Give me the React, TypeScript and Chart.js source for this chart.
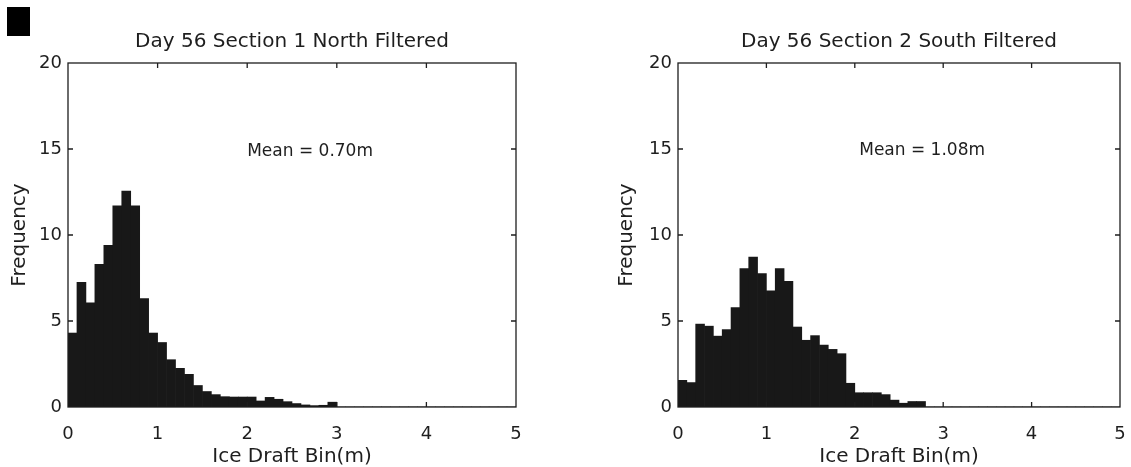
import React, { useEffect, useRef } from 'react';
import { Chart, registerables } from 'chart.js';

Chart.register(...registerables);

// Frequencies per 0.1 m ice-draft bin (0–5 m)
const northFreq = [
  4.3, 7.25, 6.05, 8.3, 9.4, 11.7, 12.55, 11.7, 6.3, 4.3,
  3.75, 2.75, 2.25, 1.9, 1.25, 0.9, 0.72, 0.6, 0.58, 0.58,
  0.58, 0.35, 0.56, 0.45, 0.31, 0.2, 0.12, 0.08, 0.1, 0.28,
  0, 0, 0, 0, 0, 0, 0, 0, 0, 0,
  0, 0, 0, 0, 0, 0, 0, 0, 0, 0,
];
const southFreq = [
  1.55, 1.42, 4.82, 4.7, 4.12, 4.5, 5.78, 8.05, 8.72, 7.75,
  6.75, 8.05, 7.3, 4.65, 3.88, 4.15, 3.6, 3.35, 3.1, 1.38,
  0.83, 0.83, 0.83, 0.72, 0.4, 0.22, 0.32, 0.32, 0, 0,
  0, 0, 0, 0, 0, 0, 0, 0, 0, 0,
  0, 0, 0, 0, 0, 0, 0, 0, 0, 0,
];
const binWidth = 0.1;
const binCenters = northFreq.map((_, i) => +(i * binWidth + binWidth / 2).toFixed(2));

const chartTitles = ['Day 56 Section 1 North Filtered', 'Day 56 Section 2 South Filtered'];
const meanLabels = ['Mean = 0.70m', 'Mean = 1.08m'];
const meanAnchorX = [2.0, 2.05];
const meanAnchorY = [14.83, 14.88];
const xAxisTitle = 'Ice Draft Bin(m)';
const yAxisTitle = 'Frequency';

const INK = '#1e1e1e';
const BAR = '#181818';
const FONT = '"DejaVu Sans", sans-serif';

const framePlugin = {
  id: 'frame',
  afterDatasetsDraw(chart: any) {
    const { ctx, chartArea, scales } = chart;
    const { left, right, top, bottom } = chartArea;
    const x = scales.x;
    const y = scales.y;
    const opts = chart.options.plugins.frame;
    ctx.save();
    ctx.strokeStyle = INK;
    ctx.lineWidth = 1.3;
    ctx.strokeRect(left, top, right - left, bottom - top);
    const tl = 5;
    ctx.beginPath();
    x.ticks.forEach((t: any) => {
      const px = x.getPixelForValue(t.value);
      if (px <= left + 1 || px >= right - 1) return;
      ctx.moveTo(px, bottom);
      ctx.lineTo(px, bottom - tl);
      ctx.moveTo(px, top);
      ctx.lineTo(px, top + tl);
    });
    y.ticks.forEach((t: any) => {
      const py = y.getPixelForValue(t.value);
      if (py <= top + 1 || py >= bottom - 1) return;
      ctx.moveTo(left, py);
      ctx.lineTo(left + tl, py);
      ctx.moveTo(right, py);
      ctx.lineTo(right - tl, py);
    });
    ctx.stroke();
    ctx.fillStyle = INK;
    ctx.font = `17px ${FONT}`;
    ctx.textAlign = 'left';
    ctx.textBaseline = 'middle';
    ctx.fillText(opts.label, x.getPixelForValue(opts.ax), y.getPixelForValue(opts.ay));
    ctx.restore();
  },
};

type HistProps = {
  values: number[];
  title: string;
  label: string;
  ax: number;
  ay: number;
  width: number;
  left: number;
  padLeft: number;
  padRight: number;
  yTitlePad: number;
};

function Histogram(p: HistProps) {
  const ref = useRef<HTMLCanvasElement>(null);
  useEffect(() => {
    if (!ref.current) return;
    const chart = new Chart(ref.current, {
      type: 'bar',
      data: {
        datasets: [
          {
            data: p.values.map((v, i) => ({ x: binCenters[i], y: v })),
            backgroundColor: BAR,
            borderWidth: 0,
            barPercentage: 1,
            categoryPercentage: 1,
            grouped: false,
          } as any,
        ],
      },
      options: {
        responsive: false,
        animation: false,
        layout: { padding: { left: p.padLeft, right: p.padRight, top: 0, bottom: 0 } },
        plugins: {
          legend: { display: false },
          tooltip: { enabled: false },
          title: {
            display: true,
            text: p.title,
            fullSize: false,
            color: INK,
            font: { family: FONT, size: 20, weight: 'normal' },
            padding: { top: 30, bottom: 9 },
          },
          frame: { label: p.label, ax: p.ax, ay: p.ay },
        } as any,
        scales: {
          x: {
            type: 'linear',
            min: 0,
            max: 5,
            offset: false,
            grid: { display: false, drawTicks: false, offset: false },
            border: { display: false },
            ticks: {
              stepSize: 1,
              padding: 17,
              maxRotation: 0,
              color: INK,
              font: { family: FONT, size: 18 },
            },
            title: {
              display: true,
              text: xAxisTitle,
              color: INK,
              font: { family: FONT, size: 20 },
              padding: { top: 0, bottom: -2 },
            },
            afterFit: (s: any) => {
              s.height = 60;
            },
          },
          y: {
            type: 'linear',
            min: 0,
            max: 20,
            grid: { display: false, drawTicks: false },
            border: { display: false },
            ticks: {
              stepSize: 5,
              padding: 6,
              color: INK,
              font: { family: FONT, size: 18 },
            },
            title: {
              display: true,
              text: yAxisTitle,
              color: INK,
              font: { family: FONT, size: 20 },
              padding: { top: p.yTitlePad, bottom: 0 },
            },
            afterFit: (s: any) => {
              s.width = 68;
            },
          },
        } as any,
      },
      plugins: [framePlugin as any],
    });
    return () => chart.destroy();
  }, []);
  return (
    <canvas
      ref={ref}
      width={p.width}
      height={467}
      style={{ position: 'absolute', left: p.left, top: 0, width: p.width, height: 467, display: 'block' }}
    />
  );
}

export default function App() {
  return (
    <div
      style={{
        position: 'absolute',
        left: 0,
        top: 0,
        width: 1131,
        height: 467,
        background: '#ffffff',
        overflow: 'hidden',
      }}
    >
      <div style={{ position: 'absolute', left: 7, top: 7, width: 23, height: 29, background: '#000' }} />
      <Histogram
        values={northFreq}
        title={chartTitles[0]}
        label={meanLabels[0]}
        ax={meanAnchorX[0]}
        ay={meanAnchorY[0]}
        width={560}
        left={0}
        padLeft={0}
        padRight={44}
        yTitlePad={8}
      />
      <Histogram
        values={southFreq}
        title={chartTitles[1]}
        label={meanLabels[1]}
        ax={meanAnchorX[1]}
        ay={meanAnchorY[1]}
        width={578}
        left={565}
        padLeft={45}
        padRight={23}
        yTitlePad={5}
      />
    </div>
  );
}
